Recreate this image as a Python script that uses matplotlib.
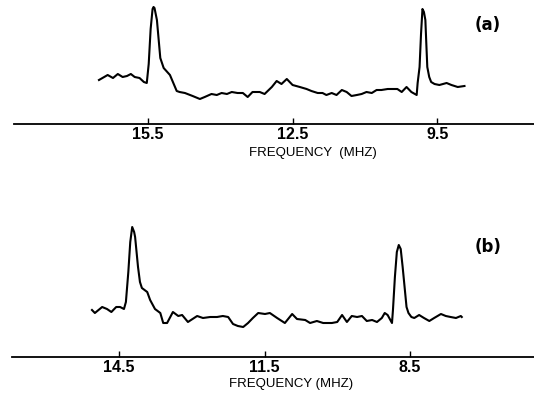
import matplotlib
matplotlib.use('Agg')
import matplotlib.pyplot as plt

# spectrum (a): frequency in MHz, signal in arbitrary units
freq_a = [16.51, 16.33, 16.22, 16.12, 16.02, 15.93, 15.85, 15.77, 15.67, 15.58,
          15.52, 15.48, 15.44, 15.40, 15.38, 15.36, 15.31, 15.24, 15.17, 15.04,
          14.90, 14.84, 14.73, 14.57, 14.42, 14.32, 14.18, 14.07, 13.97, 13.86,
          13.76, 13.64, 13.53, 13.43, 13.33, 13.18, 13.08, 12.93, 12.83, 12.73,
          12.62, 12.50, 12.35, 12.21, 12.11, 11.98, 11.88, 11.80, 11.69, 11.59,
          11.48, 11.38, 11.28, 11.17, 11.07, 10.97, 10.86, 10.76, 10.66, 10.53,
          10.45, 10.33, 10.24, 10.14, 10.04, 9.93, 9.91, 9.87, 9.84, 9.81,
          9.78, 9.75, 9.73, 9.71, 9.67, 9.63, 9.56, 9.46, 9.31, 9.21,
          9.08, 8.94]
sig_a = [44, 49, 46, 50, 47, 48, 50, 47, 46, 42,
         41, 60, 95, 115, 117, 116, 104, 66, 56, 49,
         33, 32, 31, 28, 25, 27, 30, 29, 31, 30,
         32, 31, 31, 27, 32, 32, 30, 37, 43, 40,
         45, 39, 37, 35, 33, 31, 31, 29, 31, 29,
         34, 32, 28, 29, 30, 32, 31, 34, 34, 35,
         35, 35, 32, 37, 32, 29, 41, 57, 90, 115,
         112, 104, 80, 57, 47, 42, 40, 39, 41, 39,
         37, 38]

# spectrum (b)
freq_b = [15.06, 15.00, 14.85, 14.75, 14.66, 14.56, 14.48, 14.40, 14.36, 14.31,
          14.27, 14.23, 14.19, 14.17, 14.13, 14.11, 14.07, 14.03, 13.92, 13.86,
          13.76, 13.65, 13.59, 13.51, 13.39, 13.28, 13.20, 13.08, 12.89, 12.77,
          12.62, 12.48, 12.36, 12.25, 12.15, 12.05, 11.94, 11.84, 11.74, 11.63,
          11.49, 11.39, 11.24, 11.08, 10.93, 10.83, 10.66, 10.56, 10.42, 10.29,
          10.11, 10.00, 9.90, 9.80, 9.70, 9.59, 9.49, 9.39, 9.28, 9.18,
          9.08, 9.02, 8.96, 8.87, 8.85, 8.81, 8.77, 8.73, 8.69, 8.65,
          8.61, 8.57, 8.53, 8.47, 8.41, 8.31, 8.21, 8.10, 8.00, 7.86,
          7.76, 7.66, 7.55, 7.45, 7.43]
sig_b = [47, 44, 50, 48, 45, 50, 50, 48, 55, 85,
         115, 130, 125, 120, 100, 90, 75, 69, 65, 57,
         48, 44, 34, 34, 45, 41, 42, 35, 41, 39,
         40, 40, 41, 40, 33, 31, 30, 34, 39, 44,
         43, 44, 39, 34, 43, 38, 37, 34, 36, 34,
         34, 35, 42, 35, 41, 40, 41, 36, 37, 35,
         39, 44, 42, 34, 47, 80, 105, 112, 108, 90,
         70, 50, 44, 40, 39, 42, 39, 36, 39, 43,
         41, 40, 39, 41, 40]

ticks_a = [15.5, 12.5, 9.5]
ticks_b = [14.5, 11.5, 8.5]

W, H = 534, 394
fig = plt.figure(figsize=(W / 100, H / 100), dpi=100)

def panel(rect, freq, sig, xlim, ylim, ticks):
    ax = fig.add_axes(rect)
    ax.plot(freq, sig, color='black', lw=1.5, solid_joinstyle='round')
    ax.set_xlim(*xlim)
    ax.set_ylim(*ylim)
    for s in ['top', 'left', 'right']:
        ax.spines[s].set_visible(False)
    ax.spines['bottom'].set_linewidth(1.3)
    ax.set_yticks([])
    ax.set_xticks(ticks)
    ax.set_xticklabels([str(t) for t in ticks], family='Liberation Sans',
                       fontsize=11.5, fontweight='bold')
    ax.tick_params(axis='x', direction='in', length=4, width=1, pad=2.5)
    return ax

# top panel: axis line at y=124 px, bottom panel at y=357 px
panel([14 / W, 1 - 124 / H, 1 - 14 / W, 124 / H], freq_a, sig_a,
      (18.27, 7.5), (0, 124), ticks_a)
panel([12 / W, 1 - 357 / H, 1 - 12 / W, 157 / H], freq_b, sig_b,
      (16.71, 5.94), (0, 157), ticks_b)

fig.text(313 / W, 1 - 153 / H, 'FREQUENCY  (MHZ)', ha='center', va='center',
         family='Liberation Sans', fontsize=9.5)
fig.text(291 / W, 1 - 384 / H, 'FREQUENCY (MHZ)', ha='center', va='center',
         family='Liberation Sans', fontsize=9.5)
fig.text(488 / W, 1 - 25 / H, '(a)', ha='center', va='center',
         fontsize=12, fontweight='bold')
fig.text(488 / W, 1 - 247 / H, '(b)', ha='center', va='center',
         fontsize=12, fontweight='bold')

fig.savefig('out.png', dpi=100)
